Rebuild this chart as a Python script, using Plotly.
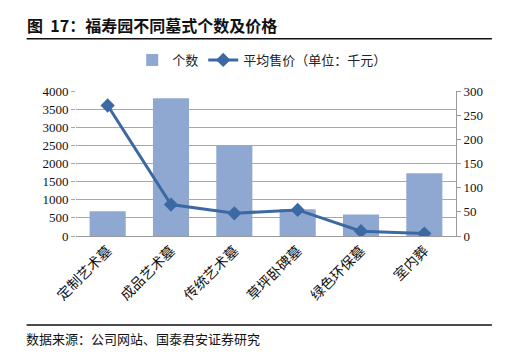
import plotly.graph_objects as go

categories = ["定制艺术墓", "成品艺术墓", "传统艺术墓", "草坪卧碑墓", "绿色环保墓", "室内葬"]
counts = [680, 3800, 2500, 740, 590, 1730]
avg_price = [270, 65, 47, 54, 10, 5]

left_ticks = list(range(0, 4001, 500))
right_ticks = list(range(0, 301, 50))

bar_color = "#8FA8D1"
line_color = "#3C69A4"
serif = "Liberation Serif, Times New Roman, serif"
cjk = "Noto Sans CJK SC"

fig = go.Figure()
fig.add_trace(go.Bar(
    x=categories, y=counts, name="个数",
    marker=dict(color=bar_color, line=dict(width=0)),
    yaxis="y",
))
fig.add_trace(go.Scatter(
    x=categories, y=avg_price, name="平均售价（单位：千元）",
    mode="lines+markers",
    line=dict(color=line_color, width=3),
    marker=dict(symbol="diamond", size=11, color=line_color),
    yaxis="y2",
))

fig.update_layout(
    width=512, height=355,
    margin=dict(l=76, r=56, t=91, b=119),
    paper_bgcolor="white", plot_bgcolor="white",
    bargap=0.43,
    showlegend=True,
    legend=dict(
        orientation="h", x=0.49, xanchor="center", y=1.214, yanchor="middle",
        font=dict(family=cjk, size=13, color="#222"),
        bgcolor="rgba(0,0,0,0)", itemwidth=30, tracegroupgap=0,
    ),
    xaxis=dict(
        tickangle=-45, tickfont=dict(family=cjk, size=14, color="#111"),
        showline=True, linecolor="#9A9A9A", linewidth=1,
        ticks="", showgrid=False, automargin=False,
    ),
    yaxis=dict(
        range=[0, 4000], tickvals=left_ticks,
        tickfont=dict(family=serif, size=13, color="#111"),
        showgrid=True, gridcolor="#A8A8A8", gridwidth=1,
        showline=False, ticks="outside", ticklen=4, tickcolor="#A8A8A8",
        zeroline=False, automargin=False,
    ),
    yaxis2=dict(
        range=[0, 300], tickvals=right_ticks, overlaying="y", side="right",
        tickfont=dict(family=serif, size=13, color="#111"),
        showgrid=False, showline=True, linecolor="#9A9A9A", linewidth=1,
        ticks="outside", ticklen=4, tickcolor="#9A9A9A", zeroline=False,
        automargin=False,
    ),
    annotations=[
        dict(text="<b>图  17：福寿园不同墓式个数及价格</b>", xref="paper", yref="paper",
             x=-0.134, y=1.455, xanchor="left", yanchor="middle", showarrow=False,
             font=dict(family=cjk, size=16, color="#111")),
        dict(text="数据来源：公司网站、国泰君安证券研究", xref="paper", yref="paper",
             x=-0.137, y=-0.705, xanchor="left", yanchor="middle", showarrow=False,
             font=dict(family=cjk, size=13, color="#111")),
    ],
    shapes=[
        dict(type="line", xref="paper", yref="paper", x0=-0.13, x1=1.0945, y0=1.36, y1=1.36,
             line=dict(color="#111", width=1.5)),
        dict(type="line", xref="paper", yref="paper", x0=-0.13, x1=1.0945, y0=-0.614, y1=-0.614,
             line=dict(color="#111", width=1.5)),
    ],
)

fig.write_html("out.html", post_script="document.body.style.margin='0';",
               config={"displayModeBar": False})
